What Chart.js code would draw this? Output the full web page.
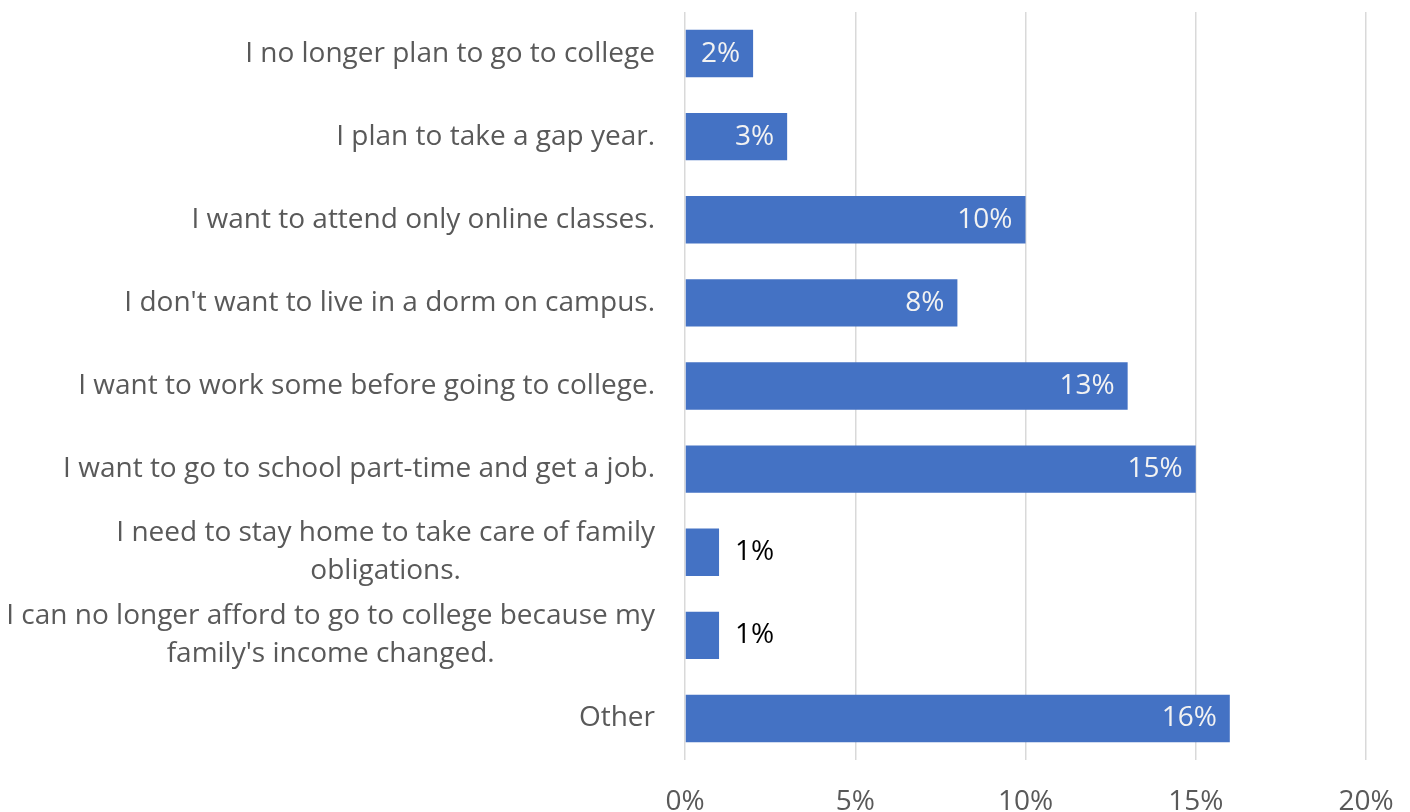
<!DOCTYPE html>
<html>
<head>
<meta charset="utf-8">
<script src="https://cdn.jsdelivr.net/npm/chart.js@4"></script>
<style>
html,body{margin:0;padding:0;background:#fff;}
#wrap{width:1410px;height:812px;position:relative;}
</style>
</head>
<body>
<div id="wrap"><canvas id="c" width="1410" height="812"></canvas></div>
<script>
const categories = [
  ["I no longer plan to go to college"],
  ["I plan to take a gap year."],
  ["I want to attend only online classes."],
  ["I don't want to live in a dorm on campus."],
  ["I want to work some before going to college."],
  ["I want to go to school part-time and get a job."],
  ["I need to stay home to take care of family", "obligations."],
  ["I can no longer afford to go to college because my", "family's income changed."],
  ["Other"]
];
const values = [2, 3, 10, 8, 13, 15, 1, 1, 16];
const xTicks = [0, 5, 10, 15, 20];

const FONT = "'Open Sans', Lato, sans-serif";
const LABEL_SIZE = 28;

const labelPlugin = {
  id: 'customLabels',
  afterDatasetsDraw(chart) {
    const ctx = chart.ctx;
    const y = chart.scales.y;
    const meta = chart.getDatasetMeta(0);
    ctx.save();
    ctx.font = LABEL_SIZE + "px " + FONT;
    ctx.fillStyle = "#595959";
    ctx.textBaseline = "middle";
    const rightEdge = 655;
    const lh = 38;
    categories.forEach((lines, i) => {
      const cy = y.getPixelForTick(i);
      const widths = lines.map(l => ctx.measureText(l).width);
      const maxW = Math.max(...widths);
      const centerX = rightEdge - maxW / 2;
      ctx.textAlign = "center";
      const start = cy - (lines.length - 1) * lh / 2;
      lines.forEach((l, k) => ctx.fillText(l, centerX, start + k * lh));
    });
    meta.data.forEach((bar, i) => {
      const v = values[i];
      const txt = v + "%";
      if (v <= 1) {
        ctx.fillStyle = "#000000";
        ctx.textAlign = "left";
        ctx.fillText(txt, bar.x + 16, bar.y);
      } else {
        ctx.fillStyle = "#f2f2f2";
        ctx.textAlign = "right";
        ctx.fillText(txt, bar.x - 13, bar.y);
      }
    });
    ctx.restore();
  }
};

new Chart(document.getElementById('c'), {
  type: 'bar',
  data: {
    labels: categories,
    datasets: [{
      data: values,
      backgroundColor: '#4472C4',
      borderWidth: 0,
      barPercentage: 0.57,
      categoryPercentage: 1.0
    }]
  },
  options: {
    indexAxis: 'y',
    responsive: false,
    animation: false,
    events: [],
    layout: { padding: { left: 685, right: 44, top: 12, bottom: 0 } },
    plugins: { legend: { display: false }, tooltip: { enabled: false } },
    scales: {
      x: {
        min: 0, max: 20,
        afterBuildTicks(scale) { scale.ticks = xTicks.map(v => ({ value: v })); },
        afterFit(scale) { scale.height = 52; scale.paddingRight = 0; scale.paddingLeft = 0; },
        border: { display: false },
        grid: { color: '#d9d9d9', lineWidth: 1.5, drawTicks: false },
        ticks: {
          padding: 25,
          color: '#595959',
          font: { family: FONT, size: LABEL_SIZE },
          callback: v => v + '%'
        }
      },
      y: { display: false }
    }
  },
  plugins: [labelPlugin]
});
</script>
</body>
</html>
